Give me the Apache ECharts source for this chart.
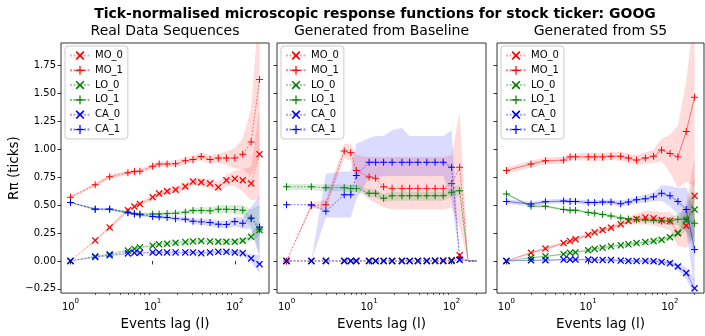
<!DOCTYPE html>
<html><head><meta charset="utf-8">
<script src="https://cdn.jsdelivr.net/npm/echarts@6/dist/echarts.min.js"></script>
<style>html,body{margin:0;padding:0;background:#fff}#c{width:705px;height:336px}</style>
</head><body><div id="c"></div>
<script>
// ---------- data ----------
const lags = [1, 2, 3, 5, 6, 7, 10, 12, 15, 19, 25, 31, 39, 50, 63, 79, 100, 125, 158, 200];
const seriesNames = ['MO_0', 'MO_1', 'LO_0', 'LO_1', 'CA_0', 'CA_1'];
const panelTitles = ['Real Data Sequences', 'Generated from Baseline', 'Generated from S5'];
const yTickValues = [-0.25, 0, 0.25, 0.5, 0.75, 1.0, 1.25, 1.5, 1.75];
const xTickValues = [1, 10, 100];
const xMinorTickValues = [2, 3, 4, 5, 6, 7, 8, 9, 20, 30, 40, 50, 60, 70, 80, 90, 200];

// Panel 1: real data (mean, half-width of shaded band)
const real_MO_0 = [0, 0.184, 0.300, 0.455, 0.487, 0.510, 0.571, 0.603, 0.624, 0.638, 0.667, 0.711, 0.705, 0.694, 0.661, 0.723, 0.737, 0.723, 0.694, 0.956];
const real_MO_1 = [0.571, 0.682, 0.755, 0.790, 0.801, 0.804, 0.848, 0.868, 0.868, 0.871, 0.897, 0.909, 0.935, 0.909, 0.921, 0.921, 0.921, 0.956, 1.066, 1.626];
const real_LO_0 = [0, 0.041, 0.061, 0.093, 0.108, 0.122, 0.137, 0.149, 0.154, 0.163, 0.169, 0.175, 0.178, 0.175, 0.172, 0.172, 0.172, 0.181, 0.216, 0.277];
const real_LO_1 = [0.524, 0.460, 0.460, 0.437, 0.425, 0.420, 0.420, 0.420, 0.425, 0.428, 0.437, 0.452, 0.452, 0.449, 0.463, 0.463, 0.460, 0.455, 0.379, 0.280];
const real_CA_0 = [0, 0.035, 0.050, 0.067, 0.073, 0.073, 0.076, 0.076, 0.076, 0.076, 0.076, 0.076, 0.070, 0.076, 0.082, 0.082, 0.076, 0.070, 0.023, -0.029];
const real_CA_1 = [0.524, 0.466, 0.466, 0.431, 0.420, 0.414, 0.399, 0.393, 0.390, 0.379, 0.373, 0.355, 0.350, 0.344, 0.329, 0.326, 0.353, 0.338, 0.385, 0.303];
const real_MO_0_err = [0, 0.01, 0.015, 0.02, 0.02, 0.02, 0.025, 0.025, 0.025, 0.03, 0.03, 0.03, 0.035, 0.04, 0.045, 0.05, 0.07, 0.1, 0.15, 0.4];
const real_MO_1_err = [0.01, 0.015, 0.02, 0.02, 0.02, 0.02, 0.025, 0.025, 0.025, 0.03, 0.03, 0.03, 0.035, 0.04, 0.04, 0.06, 0.09, 0.14, 0.3, 0.7];
const real_LO_0_err = [0, 0.005, 0.008, 0.01, 0.01, 0.01, 0.01, 0.01, 0.012, 0.012, 0.013, 0.014, 0.015, 0.016, 0.017, 0.018, 0.02, 0.025, 0.035, 0.06];
const real_LO_1_err = [0.005, 0.01, 0.01, 0.012, 0.013, 0.014, 0.015, 0.016, 0.018, 0.02, 0.022, 0.025, 0.028, 0.03, 0.035, 0.035, 0.04, 0.045, 0.08, 0.22];
const real_CA_0_err = [0, 0.006, 0.008, 0.008, 0.008, 0.008, 0.009, 0.009, 0.01, 0.01, 0.01, 0.011, 0.012, 0.013, 0.014, 0.015, 0.017, 0.02, 0.04, 0.08];
const real_CA_1_err = [0.005, 0.008, 0.01, 0.012, 0.013, 0.014, 0.015, 0.016, 0.018, 0.02, 0.022, 0.025, 0.028, 0.03, 0.032, 0.035, 0.04, 0.05, 0.1, 0.28];

// Panel 2: generated from baseline (mean, band lower, band upper)
const base_MO_0 = [0, 0, 0, 0, 0, 0, 0, 0, 0, 0, 0, 0, 0, 0, 0.003, 0.005, 0.008, 0.05, 0, 0];
const base_MO_1 = [0, 0.495, 0.504, 0.985, 0.970, 0.810, 0.752, 0.740, 0.664, 0.650, 0.650, 0.650, 0.650, 0.650, 0.650, 0.650, 0.693, 0.839, 0, 0];
const base_LO_0 = [0, 0, 0, 0, 0, 0, 0, 0, 0, 0, 0, 0, 0, 0, 0, 0, 0.005, 0.01, 0, 0];
const base_LO_1 = [0.664, 0.664, 0.656, 0.656, 0.650, 0.650, 0.606, 0.606, 0.562, 0.583, 0.583, 0.583, 0.583, 0.583, 0.583, 0.583, 0.615, 0.629, 0, 0];
const base_CA_0 = [0, 0, 0, 0, 0, 0, 0, 0, 0, 0, 0, 0, 0, 0, 0, 0, 0, 0.01, 0, 0];
const base_CA_1 = [0.504, 0.504, 0.446, 0.592, 0.592, 0.766, 0.883, 0.883, 0.883, 0.883, 0.883, 0.883, 0.883, 0.883, 0.883, 0.883, 0.839, 0.03, 0, 0];
const base_MO_1_lo = [0, 0.47, 0.46, 0.92, 0.90, 0.68, 0.55, 0.52, 0.48, 0.46, 0.46, 0.46, 0.46, 0.46, 0.46, 0.46, 0.48, 0.30, 0, 0];
const base_MO_1_hi = [0, 0.52, 0.55, 1.05, 1.05, 0.95, 0.93, 0.93, 0.93, 0.93, 0.93, 0.93, 0.93, 0.93, 0.93, 0.93, 0.95, 1.33, 0, 0];
const base_LO_1_lo = [0.635, 0.635, 0.625, 0.625, 0.62, 0.62, 0.57, 0.57, 0.53, 0.54, 0.54, 0.54, 0.54, 0.54, 0.54, 0.54, 0.575, 0.58, 0, 0];
const base_LO_1_hi = [0.69, 0.69, 0.685, 0.685, 0.68, 0.68, 0.64, 0.64, 0.60, 0.62, 0.62, 0.62, 0.62, 0.62, 0.62, 0.62, 0.655, 0.68, 0, 0];
const base_CA_1_lo = [0.504, 0, 0.39, 0.39, 0.39, 0.55, 0.74, 0.75, 0.76, 0.76, 0.76, 0.76, 0.76, 0.76, 0.76, 0.76, 0.55, 0, 0, 0];
const base_CA_1_hi = [0.504, 0, 0.78, 0.80, 0.80, 1.05, 1.10, 1.12, 1.12, 1.17, 1.19, 1.12, 1.12, 1.12, 1.12, 1.12, 1.17, 0.03, 0, 0];
const base_lastMarkedLag = 125; // beyond this lag the baseline curves are drawn without markers

// Panel 3: generated from S5 (mean, half-width of shaded band)
const s5_MO_0 = [0, 0.073, 0.111, 0.160, 0.178, 0.195, 0.233, 0.256, 0.277, 0.297, 0.329, 0.358, 0.376, 0.388, 0.382, 0.367, 0.358, 0.251, 0.315, 0.583];
const s5_MO_1 = [0.810, 0.868, 0.897, 0.903, 0.932, 0.932, 0.932, 0.932, 0.932, 0.938, 0.938, 0.921, 0.903, 0.921, 0.938, 0.994, 0.962, 0.932, 1.160, 1.466];
const s5_LO_0 = [0, 0.029, 0.041, 0.061, 0.073, 0.076, 0.096, 0.108, 0.119, 0.131, 0.140, 0.149, 0.160, 0.169, 0.178, 0.189, 0.213, 0.248, 0.367, 0.460];
const s5_LO_1 = [0.600, 0.490, 0.490, 0.460, 0.455, 0.455, 0.434, 0.428, 0.417, 0.402, 0.385, 0.376, 0.370, 0.367, 0.364, 0.358, 0.358, 0.373, 0.373, 0.338];
const s5_CA_0 = [0, 0.006, 0.006, 0.012, 0.012, 0.012, 0.012, 0.009, 0.009, 0.009, 0.003, 0, 0, 0, -0.003, -0.009, -0.020, -0.050, -0.108, -0.245];
const s5_CA_1 = [0.533, 0.510, 0.530, 0.536, 0.533, 0.533, 0.524, 0.524, 0.527, 0.527, 0.513, 0.527, 0.548, 0.557, 0.574, 0.606, 0.583, 0.533, 0.460, 0.102];
const s5_MO_0_err = [0, 0.01, 0.012, 0.015, 0.015, 0.016, 0.018, 0.02, 0.02, 0.022, 0.025, 0.03, 0.05, 0.06, 0.065, 0.07, 0.08, 0.12, 0.2, 0.35];
const s5_MO_1_err = [0.03, 0.03, 0.03, 0.03, 0.03, 0.03, 0.035, 0.035, 0.035, 0.035, 0.04, 0.04, 0.045, 0.05, 0.06, 0.1, 0.17, 0.28, 0.45, 0.8];
const s5_LO_0_err = [0, 0.008, 0.008, 0.01, 0.01, 0.01, 0.01, 0.012, 0.012, 0.012, 0.013, 0.014, 0.015, 0.016, 0.018, 0.02, 0.025, 0.035, 0.1, 0.3];
const s5_LO_1_err = [0.01, 0.012, 0.012, 0.012, 0.012, 0.012, 0.013, 0.014, 0.015, 0.016, 0.017, 0.018, 0.02, 0.022, 0.025, 0.03, 0.035, 0.05, 0.1, 0.3];
const s5_CA_0_err = [0, 0.006, 0.006, 0.007, 0.007, 0.007, 0.008, 0.008, 0.009, 0.01, 0.011, 0.012, 0.013, 0.014, 0.015, 0.017, 0.02, 0.03, 0.05, 0.08];
const s5_CA_1_err = [0.02, 0.02, 0.02, 0.02, 0.02, 0.02, 0.02, 0.02, 0.022, 0.024, 0.026, 0.028, 0.03, 0.035, 0.04, 0.07, 0.09, 0.12, 0.2, 0.35];

// ---------- styling / layout ----------
const FONT = 'DejaVu Sans';
const colorOf = { MO: '#ff0000', LO: '#008000', CA: '#0000ff' };
const PATH_X = 'path://M0,1.3 L1.3,0 L5,3.7 L8.7,0 L10,1.3 L6.3,5 L10,8.7 L8.7,10 L5,6.3 L1.3,10 L0,8.7 L3.7,5 Z';
const PATH_P = 'path://M4.3,0 H5.7 V4.3 H10 V5.7 H5.7 V10 H4.3 V5.7 H0 V4.3 H4.3 Z';
const grids = [
  { left: 61, width: 208, top: 43, height: 256 },
  { left: 277, width: 209, top: 43, height: 256 },
  { left: 497, width: 207, top: 43, height: 256 }
];
const Y_MIN = -0.288, Y_MAX = 1.952;
const X_MIN = 0.767, X_MAX = 260.6;

function sym(mean, err) {
  return { lo: mean.map((v, k) => v - err[k]), hi: mean.map((v, k) => v + err[k]) };
}
const panels = [
  { MO_0: [real_MO_0, sym(real_MO_0, real_MO_0_err)], MO_1: [real_MO_1, sym(real_MO_1, real_MO_1_err)],
    LO_0: [real_LO_0, sym(real_LO_0, real_LO_0_err)], LO_1: [real_LO_1, sym(real_LO_1, real_LO_1_err)],
    CA_0: [real_CA_0, sym(real_CA_0, real_CA_0_err)], CA_1: [real_CA_1, sym(real_CA_1, real_CA_1_err)], dotted: true, lastMarked: Infinity },
  { MO_0: [base_MO_0, { lo: base_MO_0, hi: base_MO_0 }], MO_1: [base_MO_1, { lo: base_MO_1_lo, hi: base_MO_1_hi }],
    LO_0: [base_LO_0, { lo: base_LO_0, hi: base_LO_0 }], LO_1: [base_LO_1, { lo: base_LO_1_lo, hi: base_LO_1_hi }],
    CA_0: [base_CA_0, { lo: base_CA_0, hi: base_CA_0 }], CA_1: [base_CA_1, { lo: base_CA_1_lo, hi: base_CA_1_hi }], dotted: true, lastMarked: base_lastMarkedLag },
  { MO_0: [s5_MO_0, sym(s5_MO_0, s5_MO_0_err)], MO_1: [s5_MO_1, sym(s5_MO_1, s5_MO_1_err)],
    LO_0: [s5_LO_0, sym(s5_LO_0, s5_LO_0_err)], LO_1: [s5_LO_1, sym(s5_LO_1, s5_LO_1_err)],
    CA_0: [s5_CA_0, sym(s5_CA_0, s5_CA_0_err)], CA_1: [s5_CA_1, sym(s5_CA_1, s5_CA_1_err)], dotted: false, lastMarked: Infinity }
];

const xAxes = [], yAxes = [], series = [], legends = [], graphics = [];
grids.forEach((g, i) => {
  xAxes.push({
    type: 'log', logBase: 10, gridIndex: i, min: X_MIN, max: X_MAX, position: 'bottom',
    axisLine: { show: false }, splitLine: { show: false },
    axisTick: { show: true, length: 3.5, lineStyle: { color: '#000', width: 0.8 }, customValues: xTickValues },
    axisLabel: {
      customValues: xTickValues, margin: 5, color: '#000', fontFamily: FONT,
      formatter: v => '{b|10}{s|' + Math.round(Math.log10(v)) + '}',
      rich: { b: { fontSize: 10, fontFamily: FONT, color: '#000', lineHeight: 14, verticalAlign: 'bottom' },
              s: { fontSize: 7, fontFamily: FONT, color: '#000', lineHeight: 14, verticalAlign: 'top' } }
    },
    name: 'Events lag (l)', nameLocation: 'middle', nameGap: 21,
    nameTextStyle: { fontFamily: FONT, fontSize: 13.5, color: '#000' }
  });
  xAxes.push({
    type: 'log', logBase: 10, gridIndex: i, min: X_MIN, max: X_MAX, position: 'bottom',
    axisLine: { show: false }, splitLine: { show: false }, axisLabel: { show: false },
    axisTick: { show: true, length: 2, lineStyle: { color: '#000', width: 0.6 }, customValues: xMinorTickValues }
  });
  yAxes.push({
    type: 'value', gridIndex: i, min: Y_MIN, max: Y_MAX,
    axisLine: { show: false }, splitLine: { show: false },
    axisTick: { show: true, length: 3.5, lineStyle: { color: '#000', width: 0.8 }, customValues: yTickValues },
    axisLabel: {
      show: i === 0, customValues: yTickValues, margin: 5, fontFamily: FONT, fontSize: 10, color: '#000',
      formatter: v => (v < 0 ? '\u2212' : '') + Math.abs(v).toFixed(2)
    },
    name: i === 0 ? 'R\u03c0 (ticks)' : '', nameLocation: 'middle', nameGap: 39, nameRotate: 90,
    nameTextStyle: { fontFamily: FONT, fontSize: 13.5, color: '#000' }
  });

  const p = panels[i];
  // shaded bands first
  seriesNames.forEach(name => {
    const band = p[name][1];
    const col = colorOf[name.slice(0, 2)];
    series.push({
      type: 'custom', name: name + ' band', xAxisIndex: 2 * i, yAxisIndex: i, clip: true, silent: true, z: 1,
      data: lags.map((l, k) => [l, band.lo[k], band.hi[k]]),
      encode: { x: 0, y: [1, 2] },
      renderItem: function (params, api) {
        if (params.dataIndex !== 0) return null;
        const pts = [];
        for (let k = 0; k < lags.length; k++) pts.push(api.coord([lags[k], band.hi[k]]));
        for (let k = lags.length - 1; k >= 0; k--) pts.push(api.coord([lags[k], band.lo[k]]));
        return { type: 'polygon', shape: { points: pts }, style: { fill: col, opacity: 0.14, stroke: null } };
      }
    });
  });
  seriesNames.forEach(name => {
    const mean = p[name][0];
    const col = colorOf[name.slice(0, 2)];
    const isZero = name.endsWith('_0');
    series.push({
      type: 'line', name: name, xAxisIndex: 2 * i, yAxisIndex: i, z: 3,
      data: lags.map((l, k) => (l > p.lastMarked ? { value: [l, mean[k]], symbolSize: 0 } : [l, mean[k]])),
      symbol: isZero ? PATH_X : PATH_P, symbolSize: 7, showAllSymbol: true,
      itemStyle: { color: col, opacity: 1 },
      lineStyle: { color: col, width: 1, opacity: isZero ? 0.35 : 0.5, type: p.dotted ? [2, 1.5] : 'solid' },
      emphasis: { disabled: true }, animation: false
    });
  });
  legends.push({
    show: true, orient: 'vertical', left: g.left + 4, top: 46, data: seriesNames.slice(),
    padding: [4, 5, 4, 4], itemGap: 3.8, itemWidth: 20, itemHeight: 11,
    backgroundColor: 'rgba(255,255,255,0.8)', borderColor: '#cccccc', borderWidth: 1, borderRadius: 3,
    textStyle: { fontFamily: FONT, fontSize: 10, color: '#000', lineHeight: 11 },
    selectedMode: false
  });
  graphics.push({
    type: 'text', x: g.left + g.width / 2, y: 31,
    style: { text: panelTitles[i], font: '14px "DejaVu Sans"', fill: '#000', textAlign: 'center', textVerticalAlign: 'middle' }
  });
});
graphics.push({
  type: 'text', x: 375, y: 14,
  style: { text: 'Tick-normalised microscopic response functions for stock ticker: GOOG', font: 'bold 14px "DejaVu Sans"', fill: '#000', textAlign: 'center', textVerticalAlign: 'middle' }
});

const chart = echarts.init(document.getElementById('c'), null, { renderer: 'canvas' });
chart.setOption({
  animation: false,
  backgroundColor: '#fff',
  grid: grids.map(g => Object.assign({ show: true, borderColor: '#000', borderWidth: 0.8, backgroundColor: 'transparent' }, g)),
  xAxis: xAxes, yAxis: yAxes, legend: legends, series: series, graphic: graphics
});
</script></body></html>
